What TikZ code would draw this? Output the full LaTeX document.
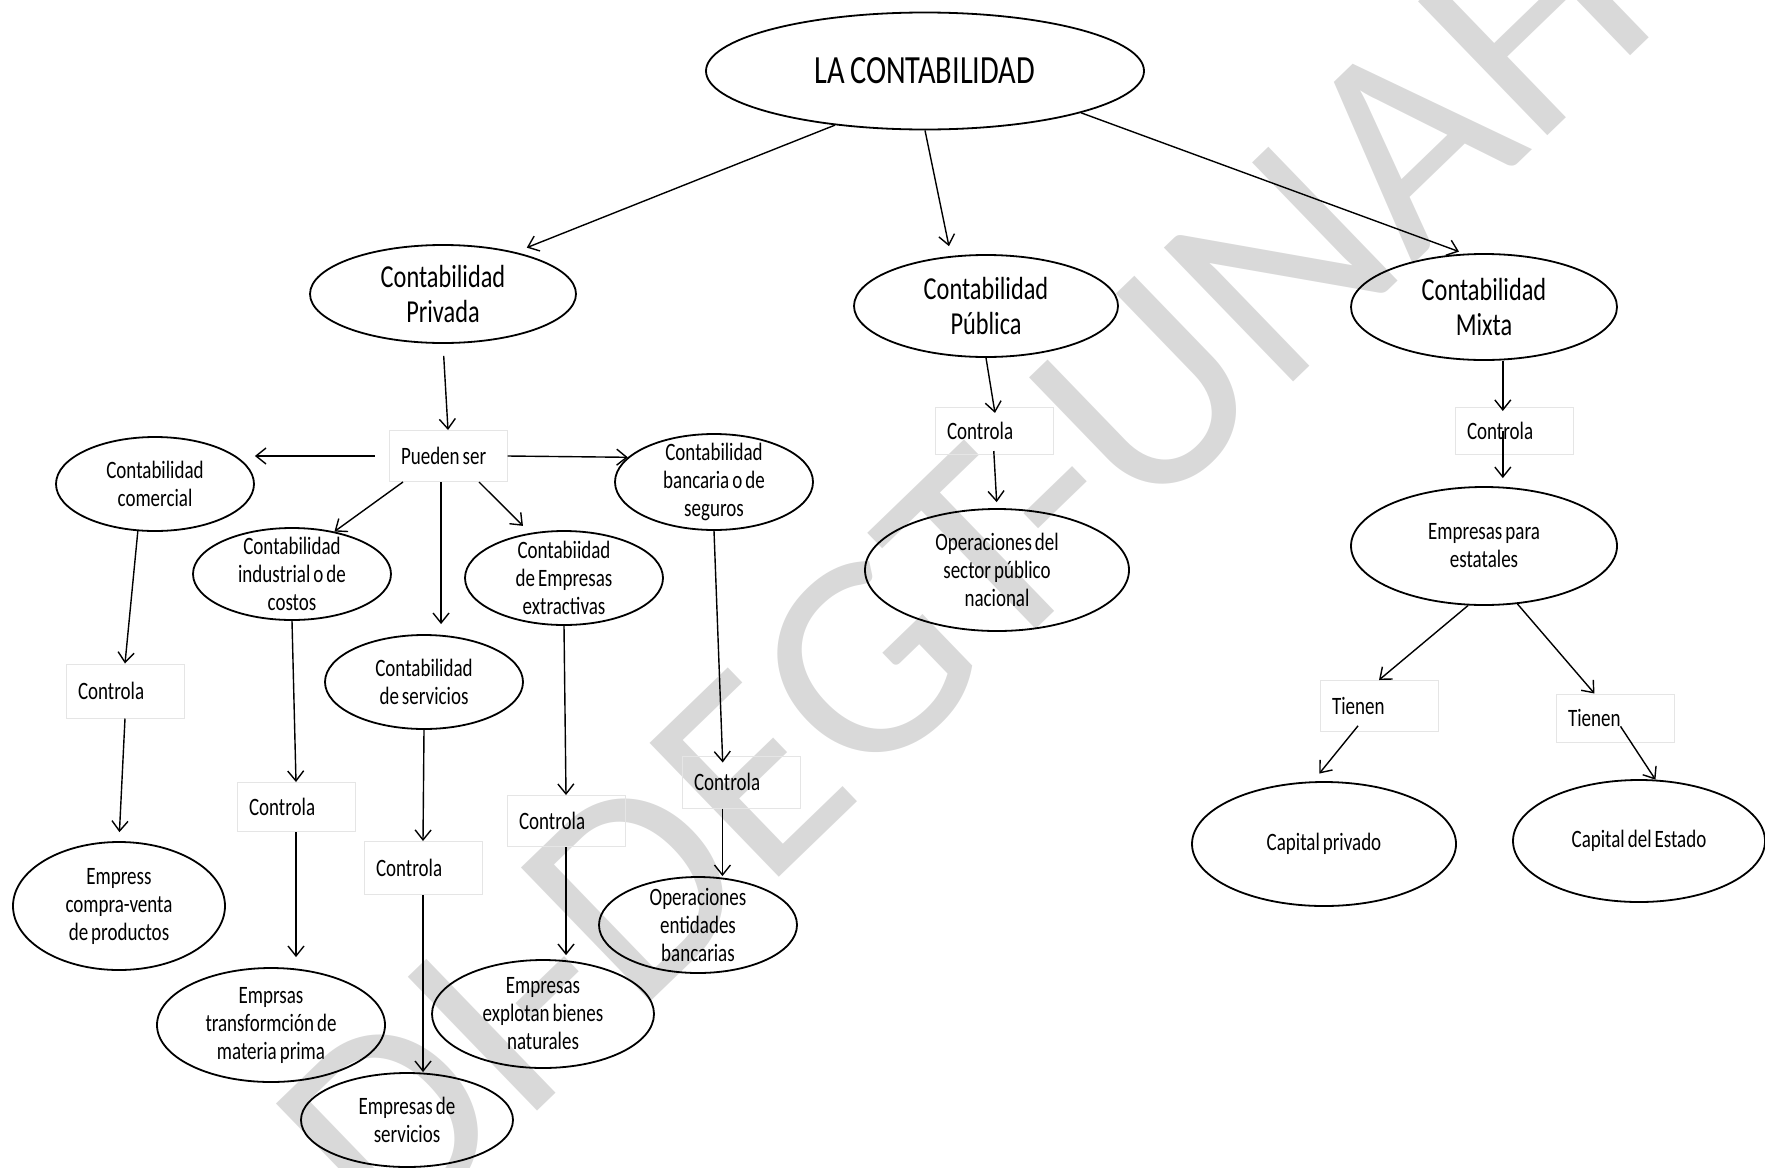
\documentclass[tikz,border=0pt]{standalone}
\usepackage{fontspec}
\setmainfont{Carlito}[FakeStretch=0.76, WordSpace=0.7]
\newfontfamily\marcafont{Carlito}
\usetikzlibrary{shapes.geometric,arrows.meta}
\newcommand{\fsz}[2]{\fontsize{#1}{#2}\selectfont}

\begin{document}
\begin{tikzpicture}[
    x=0.5pt, y=-0.5pt,
    bubble/.style={ellipse, draw, line width=0.9pt, inner xsep=0pt, inner ysep=-10pt, align=center, font=\fsz{12.5}{14}},
    ctrlbox/.style={rectangle, draw=black!10, line width=0.5pt, inner xsep=6pt, inner ysep=0pt, text width=47pt, minimum height=25pt, align=flush left, font=\fsz{12.5}{14}},
    arrow/.style={-{Straight Barb[length=5pt,width=8pt]}, line width=0.7pt},
    marca/.style={text=black!15, rotate=44, font=\marcafont\fsz{145}{145}}
]
    \useasboundingbox (0,0) rectangle (1765,1167);
    \node [marca] (sello) at (963,571) {DI-DEGT-UNAH};

    \node [bubble, minimum width=219pt, minimum height=58.5pt, font=\fsz{20}{24}] (title) at (925,71) {LA CONTABILIDAD};
    \node [bubble, minimum width=133pt, minimum height=49pt, font=\fsz{16}{17.5}] (privada) at (443,294) {Contabilidad\\Privada};
    \node [bubble, minimum width=132pt, minimum height=51pt, font=\fsz{16}{17.5}] (publica) at (986,306) {Contabilidad\\Pública};
    \node [bubble, minimum width=133pt, minimum height=53pt, font=\fsz{16}{17.5}] (mixta) at (1484,307) {Contabilidad\\Mixta};

    \node [ctrlbox, minimum height=25.5pt] (pueden) at (448,456) {Pueden ser};
    \node [bubble, minimum width=99pt, minimum height=47pt] (comercial) at (155,484) {Contabilidad\\comercial};
    \node [bubble, minimum width=99pt, minimum height=48pt] (bancaria) at (714,482) {Contabilidad\\bancaria o de\\seguros};
    \node [bubble, minimum width=99pt, minimum height=46pt] (industrial) at (292,574) {Contabilidad\\industrial o de\\costos};
    \node [bubble, minimum width=99pt, minimum height=47pt] (servicios) at (424,682) {Contabilidad\\de servicios};
    \node [bubble, minimum width=99pt, minimum height=47pt] (extractivas) at (564,578) {Contabiidad\\de Empresas\\extractivas};

    \node [ctrlbox, minimum height=27pt] (ctrlA) at (125,691) {Controla};
    \node [bubble, minimum width=106pt, minimum height=64pt] (empA) at (119,906) {Empress\\compra-venta\\de productos};
    \node [ctrlbox, minimum height=24.5pt] (ctrlB) at (296,807) {Controla};
    \node [bubble, minimum width=114pt, minimum height=57pt] (empB) at (271,1025) {Emprsas\\transformción de\\materia prima};
    \node [ctrlbox, minimum height=26.5pt] (ctrlC) at (423,868) {Controla};
    \node [bubble, minimum width=106pt, minimum height=47pt] (empC) at (407,1120) {Empresas de\\servicios};
    \node [ctrlbox, minimum height=25.5pt] (ctrlD) at (566,821) {Controla};
    \node [bubble, minimum width=111pt, minimum height=54pt] (empD) at (543,1014) {Empresas\\explotan bienes\\naturales};
    \node [ctrlbox, minimum height=26pt] (ctrlE) at (741,782) {Controla};
    \node [bubble, minimum width=99pt, minimum height=48pt] (empE) at (698,925) {Operaciones\\entidades\\bancarias};

    \node [ctrlbox, minimum height=23.5pt] (ctrlF) at (994,431) {Controla};
    \node [bubble, minimum width=132pt, minimum height=61pt] (empF) at (997,570) {Operaciones del\\sector público\\nacional};

    \node [ctrlbox, minimum height=23.5pt] (ctrlG) at (1514,431) {Controla};
    \node [bubble, minimum width=133pt, minimum height=59pt] (empG) at (1484,546) {Empresas para\\estatales};
    \node [ctrlbox, minimum height=25.5pt] (tienen1) at (1379,706) {Tienen};
    \node [ctrlbox, minimum height=24pt] (tienen2) at (1615,718) {Tienen};
    \node [bubble, minimum width=132pt, minimum height=62pt] (capP) at (1324,844) {Capital privado};
    \node [bubble, minimum width=126pt, minimum height=61pt] (capE) at (1639,841) {Capital del Estado};

    \draw [arrow] (title.211) -- (privada.30) [shorten >=6pt];
    \draw [arrow, shorten >=5pt] (title.south) -- (publica.125);
    \draw [arrow, shorten >=3pt] (title.345) -- (mixta.110);

    \draw [arrow, shorten <=6pt] (privada.south) -- (pueden.north);
    \draw [arrow, shorten <=7pt] (pueden.west) -- (pueden.west -| comercial.east);
    \draw [arrow] (pueden.east) -- (bancaria.164);
    \draw [arrow] (pueden.-150) -- (industrial.45);
    \draw [arrow, shorten >=5pt] (pueden.-105) -- (pueden.-105 |- servicios.north);
    \draw [arrow, shorten >=5pt] (pueden.-40) -- (extractivas.127);

    \draw [arrow] (comercial.250) -- (ctrlA.north);
    \draw [arrow, shorten >=4.5pt] (ctrlA.south) -- (empA.north);
    \draw [arrow] (industrial.south) -- (ctrlB.north);
    \draw [arrow, shorten >=5pt] (ctrlB.south) -- (ctrlB.south |- empB.north);
    \draw [arrow] (servicios.south) -- (ctrlC.north);
    \draw [arrow] (ctrlC.south) -- (ctrlC.south |- empC.north);
    \draw [arrow] (extractivas.south) -- (ctrlD.north);
    \draw [arrow, shorten >=2pt] (ctrlD.south) -- (ctrlD.south |- empD.north);
    \draw [arrow, shorten >=-3.5pt] (bancaria.south) -- (ctrlE.125);
    \draw [arrow] (ctrlE.235) -- (ctrlE.235 |- empE.north);

    \draw [arrow, shorten >=-3pt] (publica.south) -- (ctrlF.north);
    \draw [arrow, shorten <=-2pt, shorten >=3pt] (ctrlF.south) -- (empF.north);

    \draw [arrow, shorten >=-2pt] (ctrlG.115 |- mixta.south) -- (ctrlG.115);
    \draw [arrow, shorten >=4pt] (ctrlG.115 |- ctrlG.center) -- (ctrlG.115 |- empG.north);
    \draw [arrow] (empG.255) -- (tienen1.north);
    \draw [arrow] (empG.300) -- (tienen2.130);
    \draw [arrow, shorten <=-4pt, shorten >=5pt] (tienen1.225) -- (capP.100);
    \draw [arrow, shorten <=5pt] (tienen2.center) -- (capE.75);
\end{tikzpicture}
\end{document}
